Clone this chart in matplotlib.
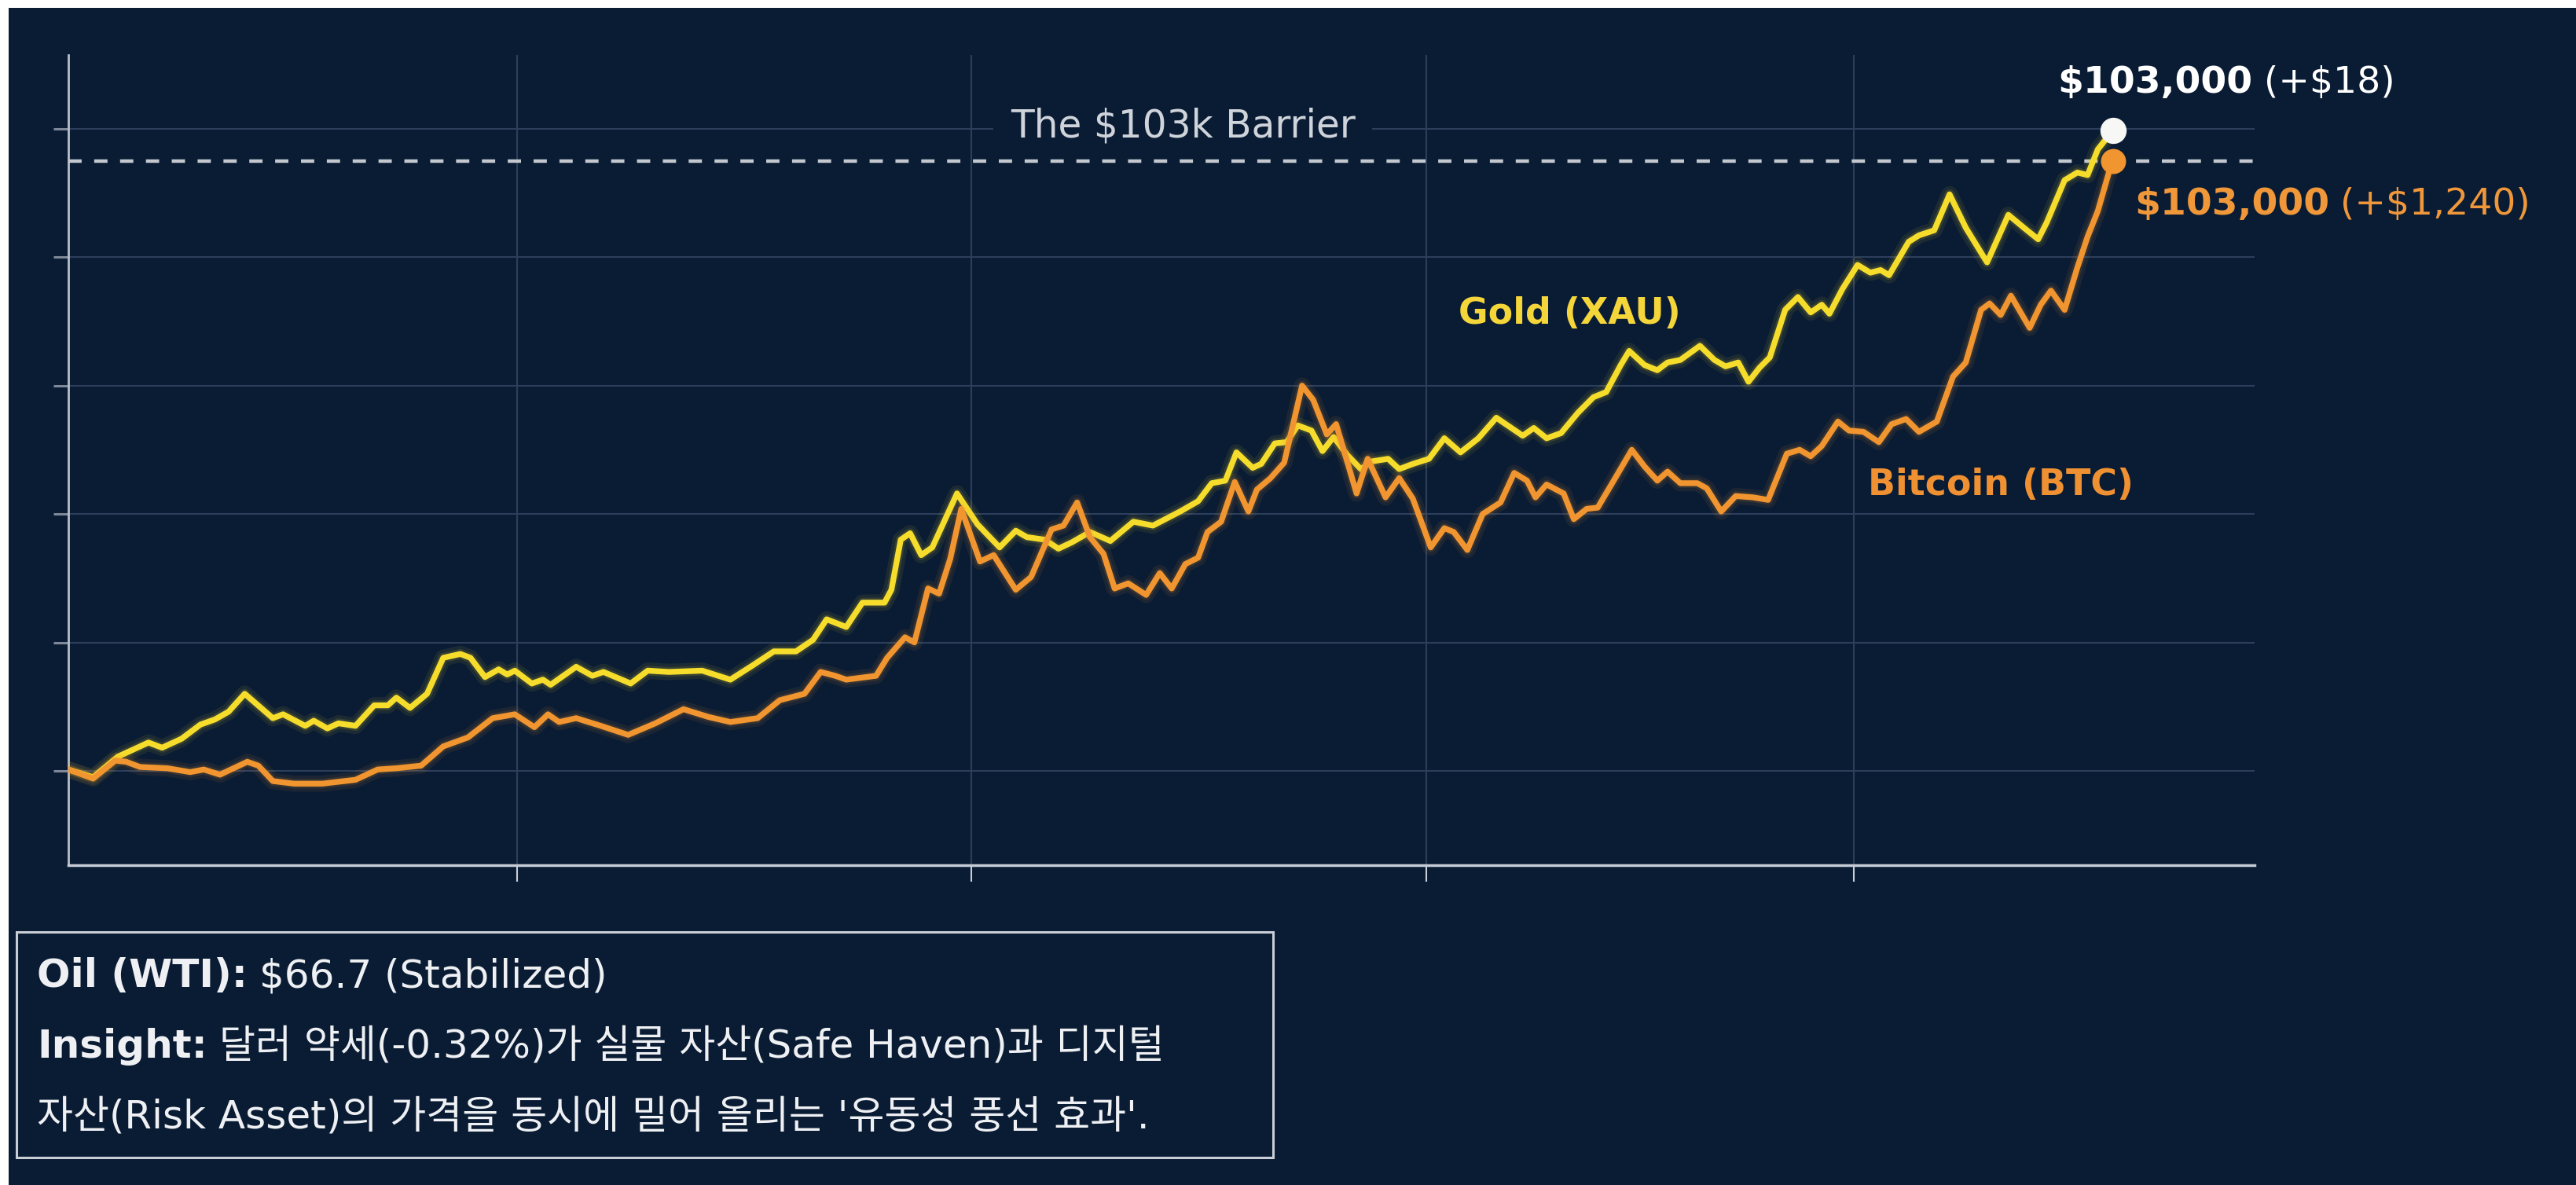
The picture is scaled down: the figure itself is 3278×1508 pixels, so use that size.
import matplotlib.pyplot as plt
from matplotlib.patches import Rectangle

# performance index (start = 100), day number since start of window
gold_day = [0.0, 2.9, 5.8, 9.4, 11.0, 13.3, 15.5, 17.2, 18.8, 20.7,
            24.0, 25.2, 27.8, 28.8, 30.4, 31.7, 33.7, 35.9, 37.5, 38.5,
            40.1, 42.1, 44.0, 46.0, 47.2, 48.9, 50.5, 51.5, 52.4, 54.4,
            55.7, 56.6, 59.6, 61.5, 62.8, 66.0, 68.0, 70.5, 74.4, 77.7,
            80.3, 82.8, 85.4, 87.4, 89.0, 91.3, 93.2, 95.8, 96.6, 97.7,
            98.8, 100.1, 101.4, 104.3, 106.7, 109.3, 111.2, 112.5, 114.6, 116.2,
            117.8, 119.9, 122.3, 125.0, 127.3, 130.5, 132.6, 134.2, 135.8, 137.1,
            139.0, 140.0, 141.6, 143.0, 144.3, 145.9, 147.2, 148.5, 150.1, 151.7,
            153.0, 154.9, 156.2, 157.8, 159.7, 161.5, 163.4, 165.5, 167.6, 169.6,
            170.7, 172.0, 173.5, 175.2, 177.2, 179.0, 180.5, 182.2, 183.2, 185.0,
            186.5, 187.7, 189.2, 191.5, 193.2, 194.5, 196.0, 197.2, 198.5, 199.7,
            201.5, 203.0, 204.5, 205.8, 206.7, 208.2, 210.0, 211.5, 212.7, 213.7,
            216.0, 217.2, 219.0, 220.8, 222.7, 225.2, 227.7, 229.7, 231.2, 232.2,
            234.3, 235.8, 237.0, 238.2, 240.0]
gold_idx = [100.1, 99.5, 101.1, 102.2, 101.8, 102.5, 103.6, 104.0, 104.6, 106.0,
            104.1, 104.4, 103.5, 103.9, 103.3, 103.7, 103.5, 105.1, 105.1, 105.7,
            104.9, 106.0, 108.8, 109.1, 108.8, 107.3, 107.9, 107.5, 107.8, 106.8,
            107.1, 106.7, 108.1, 107.4, 107.7, 106.8, 107.8, 107.7, 107.8, 107.1,
            108.2, 109.3, 109.3, 110.2, 111.8, 111.2, 113.1, 113.1, 114.1, 118.0,
            118.5, 116.8, 117.4, 121.6, 119.2, 117.4, 118.7, 118.2, 118.0, 117.3,
            117.8, 118.6, 117.9, 119.4, 119.1, 120.2, 121.0, 122.4, 122.6, 124.8,
            123.6, 123.9, 125.5, 125.6, 126.9, 126.5, 124.9, 126.0, 124.6, 123.5,
            124.1, 124.3, 123.5, 123.9, 124.3, 125.9, 124.8, 125.9, 127.5, 126.6,
            126.1, 126.7, 125.9, 126.3, 127.9, 129.1, 129.5, 131.6, 132.7, 131.6,
            131.2, 131.8, 132.0, 133.1, 132.0, 131.5, 131.8, 130.3, 131.4, 132.2,
            135.9, 136.9, 135.7, 136.3, 135.6, 137.5, 139.4, 138.8, 139.0, 138.6,
            141.2, 141.7, 142.1, 144.9, 142.3, 139.6, 143.3, 142.2, 141.4, 142.7,
            146.0, 146.6, 146.4, 148.4, 149.9]

btc_day = [0.0, 2.9, 5.5, 6.8, 8.4, 11.6, 14.3, 15.9, 17.8, 21.0,
           22.3, 24.0, 26.5, 29.8, 33.7, 36.3, 38.5, 41.4, 44.0, 46.9,
           49.8, 52.4, 54.7, 56.3, 57.6, 59.6, 62.5, 65.7, 68.9, 72.2,
           75.1, 77.7, 80.9, 83.5, 86.4, 88.3, 90.0, 91.3, 94.8, 96.1,
           98.2, 99.3, 100.9, 102.2, 103.5, 104.8, 107.0, 108.6, 111.2, 113.0,
           115.4, 116.8, 118.4, 119.9, 121.5, 122.8, 124.4, 126.5, 128.1, 129.5,
           131.1, 132.6, 133.7, 135.3, 136.9, 138.5, 139.5, 141.1, 142.7, 144.8,
           146.1, 147.7, 148.8, 151.2, 152.5, 154.6, 156.2, 157.8, 159.9, 161.5,
           162.6, 164.2, 166.0, 168.1, 169.7, 171.2, 172.2, 173.5, 175.5, 176.7,
           178.2, 179.5, 181.2, 183.5, 185.0, 186.5, 187.7, 189.2, 191.2, 192.3,
           194.0, 195.7, 197.7, 199.5, 201.7, 203.2, 204.5, 205.8, 207.7, 209.0,
           210.7, 212.5, 214.0, 215.7, 217.2, 219.3, 221.2, 222.7, 224.5, 225.5,
           226.8, 228.0, 230.2, 231.5, 232.7, 234.3, 235.8, 237.0, 238.2, 239.5,
           240.0]
btc_idx = [100.1, 99.4, 100.8, 100.7, 100.3, 100.2, 99.9, 100.1, 99.7, 100.7,
           100.4, 99.2, 99.0, 99.0, 99.3, 100.1, 100.2, 100.4, 101.9, 102.6,
           104.1, 104.4, 103.4, 104.4, 103.8, 104.1, 103.5, 102.8, 103.7, 104.8,
           104.2, 103.8, 104.1, 105.5, 106.0, 107.7, 107.4, 107.1, 107.4, 108.8,
           110.4, 110.0, 114.2, 113.8, 116.5, 120.4, 116.3, 116.8, 114.1, 115.1,
           118.8, 119.1, 120.9, 118.2, 116.9, 114.2, 114.6, 113.7, 115.4, 114.2,
           116.1, 116.6, 118.6, 119.4, 122.5, 120.2, 121.9, 122.8, 124.0, 130.0,
           128.9, 126.2, 127.0, 121.6, 124.3, 121.3, 122.8, 121.2, 117.4, 118.9,
           118.6, 117.2, 120.0, 120.9, 123.2, 122.6, 121.3, 122.3, 121.6, 119.6,
           120.4, 120.5, 122.4, 125.0, 123.7, 122.6, 123.3, 122.4, 122.4, 122.0,
           120.2, 121.4, 121.3, 121.1, 124.7, 125.0, 124.5, 125.3, 127.2, 126.5,
           126.4, 125.6, 127.0, 127.4, 126.4, 127.2, 130.7, 131.8, 135.9, 136.4,
           135.5, 137.0, 134.5, 136.3, 137.4, 135.9, 139.2, 141.6, 143.6, 146.6,
           147.5]

month_ticks = [52.7, 106.0, 159.4, 209.6]
grid_levels = [100, 110, 120, 130, 140, 150]
barrier = 147.5

gold_end = ("\\$103,000", "(+\\$18)")
btc_end = ("\\$103,000", "(+\\$1,240)")
oil_line = ("Oil (WTI):", "\\$66.7 (Stabilized)")
insight_line = ("Insight:", "달러 약세(-0.32%)가 실물 자산(Safe Haven)과 디지털")
insight_line2 = "자산(Risk Asset)의 가격을 동시에 밀어 올리는 '유동성 풍선 효과'."

BG = '#0a1c34'
GOLD = '#f6dd2c'
BTC = '#f0952f'
plt.rcParams['font.family'] = ['DejaVu Sans', 'Noto Sans CJK KR']

W, H = 3278, 1508
fig = plt.figure(figsize=(W / 100, H / 100), dpi=100, facecolor='white')
fig.add_artist(Rectangle((11 / W, 0), 1, 1 - 10 / H, transform=fig.transFigure,
                         facecolor=BG, edgecolor='none', zorder=-5))

ax = fig.add_axes([87 / W, 407 / H, 2782 / W, 1031 / H])
ax.set_facecolor('none')
ax.set_xlim(0, 256.6)
ax.set_ylim(92.65, 155.75)

ax.set_xticks(month_ticks)
ax.set_yticks(grid_levels)
ax.set_xticklabels([])
ax.set_yticklabels([])
ax.tick_params(axis='x', length=15, width=1.5, color='#c9ced6')
ax.tick_params(axis='y', length=14, width=2.2, color='#7d8898')
ax.grid(True, color='#2c3e5a', lw=1.5)
ax.set_axisbelow(True)
for s in ['top', 'right']:
    ax.spines[s].set_visible(False)
ax.spines['left'].set_color('#b9c0cb')
ax.spines['left'].set_linewidth(2)
ax.spines['bottom'].set_color('#c5ccd6')
ax.spines['bottom'].set_linewidth(2.5)

ax.axhline(barrier, color='#c3c8cf', lw=3.2, dashes=(3.8, 3.6), zorder=3)
ax.text(130.8, 150.2, "The \\$103k Barrier", ha='center', va='center', fontsize=35,
        color='#cfd3da', zorder=2.5,
        bbox=dict(boxstyle='square,pad=0.45', fc=BG, ec='none'))

for days, vals, col, z in [(gold_day, gold_idx, GOLD, 4), (btc_day, btc_idx, BTC, 5)]:
    ax.plot(days, vals, color=col, lw=15, alpha=0.08, zorder=z, solid_joinstyle='round',
            solid_capstyle='round')
    ax.plot(days, vals, color=col, lw=9, alpha=0.12, zorder=z, solid_joinstyle='round',
            solid_capstyle='round')
    ax.plot(days, vals, color=col, lw=5.3, zorder=z, solid_joinstyle='round',
            solid_capstyle='round')

ax.plot(gold_day[-1], gold_idx[-1], 'o', ms=23, color='#f7f7f5', zorder=7)
ax.plot(btc_day[-1], btc_idx[-1], 'o', ms=22, color=BTC, zorder=6)

ax.text(163.2, 134.8, "Gold (XAU)", color='#f4d53a', fontsize=33,
        fontweight='bold', va='baseline')
ax.text(211.2, 121.5, "Bitcoin (BTC)", color='#ef9132', fontsize=33,
        fontweight='bold', va='baseline')


def two_part(x, y, parts, color, size, trans):
    t = ax.text(x, y, parts[0], transform=trans, fontsize=size, fontweight='bold',
                color=color, va='baseline', clip_on=False)
    ax.annotate(parts[1], xy=(1, 0), xycoords=t, xytext=(size * 0.3, 0),
                textcoords='offset points', fontsize=size, color=color, va='bottom')
    return t


two_part(233.5, 152.8, gold_end, 'white', 34, ax.transData)
two_part(242.5, 143.3, btc_end, '#f0973a', 34, ax.transData)

# insight box
fig.add_artist(Rectangle((21 / W, 35 / H), 1599 / W, 287 / H, transform=fig.transFigure,
                         facecolor='none', edgecolor='#c9ced6', lw=2.2))
two_part(47 / W, (H - 1256) / H, oil_line, '#eef0f3', 36, fig.transFigure)
two_part(47 / W, (H - 1346) / H, insight_line, '#eef0f3', 36, fig.transFigure)
fig.text(47 / W, (H - 1436) / H, insight_line2, fontsize=36, color='#eef0f3',
         va='baseline')

fig.savefig('out.png', dpi=100, facecolor=fig.get_facecolor())
